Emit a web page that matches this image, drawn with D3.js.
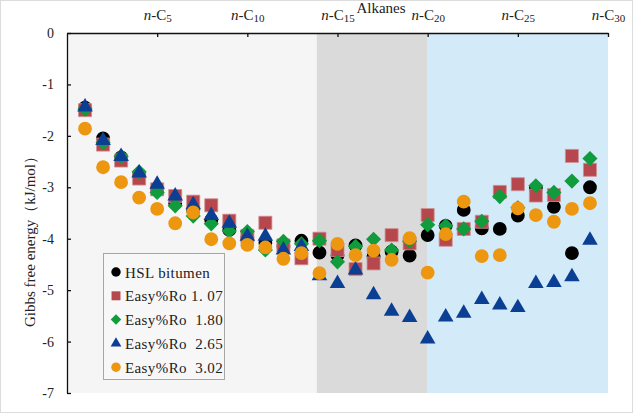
<!DOCTYPE html>
<html>
<head>
<meta charset="utf-8">
<script src="https://cdn.jsdelivr.net/npm/d3@7"></script>
<style>
  body { margin: 0; background: #fff; }
  svg text, svg tspan { font-family: "Liberation Serif", "DejaVu Serif", serif !important; fill: #222; }
</style>
</head>
<body>
<svg id="chart" width="633" height="413" font-family="Liberation Serif, serif"></svg>
<script>
// carbon numbers n-C1 .. n-C29
const carbons = d3.range(1, 30);
const xTicks = [5, 10, 15, 20, 25, 30];
const yTicks = [0, -1, -2, -3, -4, -5, -6, -7];

const hslBitumen = [-1.45, -2.05, -2.42, -2.75, -3.05, -3.31, -3.45, -3.64, -3.83, -3.97,
  -4.08, -4.15, -4.04, -4.27, -4.32, -4.13, -4.35, -4.25, -4.33, -3.93,
  -3.75, -3.44, -3.80, -3.81, -3.55, -3.02, -3.38, -4.28, -3.00];
const ro107 = [-1.50, -2.17, -2.48, -2.83, -3.04, -3.17, -3.28, -3.35, -3.65, -3.95,
  -3.69, -4.13, -4.38, -4.00, -4.22, -4.59, -4.48, -3.93, -4.09, -3.54,
  -4.02, -3.81, -3.67, -3.09, -2.94, -3.16, -3.15, -2.39, -2.66];
const ro180 = [-1.48, -2.13, -2.40, -2.70, -3.10, -3.36, -3.56, -3.71, -3.85, -3.86,
  -4.22, -4.05, -4.10, -4.04, -4.45, -4.15, -4.01, -4.22, -4.05, -3.73,
  -3.75, -3.81, -3.66, -3.18, -3.40, -2.97, -3.10, -2.88, -2.44];
const ro265 = [-1.44, -2.09, -2.40, -2.72, -2.94, -3.17, -3.34, -3.55, -3.70, -3.95,
  -3.95, -4.22, -4.15, -4.72, -4.87, -4.61, -5.09, -5.41, -5.53, -5.95,
  -5.52, -5.45, -5.18, -5.29, -5.34, -4.87, -4.85, -4.74, -4.03];
const ro302 = [-1.86, -2.61, -2.90, -3.20, -3.42, -3.70, -3.49, -4.01, -4.09, -4.12,
  -4.17, -4.39, -4.28, -4.67, -4.10, -4.32, -4.23, -4.41, -3.99, -4.66,
  -3.91, -3.28, -4.34, -4.32, -3.41, -3.54, -3.67, -3.42, -3.31];

const seriesNames = ["HSL bitumen", "Easy%Ro 1. 07", "Easy%Ro  1.80", "Easy%Ro  2.65", "Easy%Ro  3.02"];

// shaded bands (in carbon number units)
const bands = [
  { from: 0, to: 13.85, color: "#f5f5f5" },
  { from: 13.85, to: 20, color: "#dadada" },
  { from: 20, to: 30, color: "#d3eaf9" },
];

const svg = d3.select("#chart");
const margin = { top: 33, right: 25, bottom: 20, left: 67 };
const width = 633, height = 413;
const serif = "Liberation Serif, DejaVu Serif, serif";

const xScale = d3.scaleLinear().domain([0, 30]).range([margin.left, width - margin.right]);
const yScale = d3.scaleLinear().domain([-7, 0]).range([height - margin.bottom, margin.top]);

// faint frame round the picture
svg.append("rect")
  .attr("x", 0.5).attr("y", 0.5)
  .attr("width", width - 1).attr("height", height - 1)
  .attr("fill", "none").attr("stroke", "#dcdcdc");

// background bands
svg.selectAll(".band")
  .data(bands)
  .enter()
  .append("rect")
  .attr("class", "band")
  .attr("x", (d) => xScale(d.from))
  .attr("width", (d) => xScale(d.to) - xScale(d.from))
  .attr("y", yScale(0))
  .attr("height", yScale(-7) - yScale(0))
  .attr("fill", (d) => d.color);

// axes
const xAxis = d3.axisTop(xScale).tickValues(xTicks).tickSize(-4).tickSizeOuter(0).tickPadding(13);
const yAxis = d3.axisLeft(yScale).tickValues(yTicks).tickSize(-4).tickSizeOuter(0).tickPadding(13)
  .tickFormat((d) => String(d));

const gx = svg.append("g")
  .attr("transform", `translate(0,${yScale(0)})`)
  .call(xAxis)
  .attr("font-family", serif);
gx.selectAll("text").text(null).attr("font-size", 15).attr("fill", "#222")
  .each(function (d) {
    const t = d3.select(this);
    t.append("tspan").attr("font-style", "italic").text("n");
    t.append("tspan").text("-C");
    t.append("tspan").attr("font-size", 11).attr("dy", 2).text(d);
  });

const gy = svg.append("g")
  .attr("transform", `translate(${xScale(0)},0)`)
  .call(yAxis)
  .attr("font-family", serif);
gy.selectAll("text").attr("font-size", 14).attr("fill", "#222");

[gx, gy].forEach((g) => {
  g.select(".domain").attr("stroke", "#111").attr("stroke-width", 1.3);
  g.selectAll(".tick line").attr("stroke", "#111").attr("stroke-width", 1.3);
});

// titles
svg.append("text")
  .attr("x", 381).attr("y", 13)
  .attr("text-anchor", "middle")
  .attr("font-family", serif)
  .attr("font-size", 15)
  .text("Alkanes");

svg.append("text")
  .attr("transform", `translate(35,238) rotate(-90)`)
  .attr("text-anchor", "middle")
  .attr("font-family", serif)
  .attr("font-size", 15)
  .text("Gibbs free energy（kJ/mol）");

// markers
const diamond = {
  draw(ctx, size) {
    const r = Math.sqrt(size / 2);
    ctx.moveTo(0, -r); ctx.lineTo(r, 0); ctx.lineTo(0, r); ctx.lineTo(-r, 0); ctx.closePath();
  },
};

const series = [
  { name: seriesNames[0], values: hslBitumen, shape: d3.symbolCircle, size: 150, legendSize: 70, color: "#000000", stroke: "none" },
  { name: seriesNames[1], values: ro107, shape: d3.symbolSquare, size: 170, legendSize: 80, color: "#b5474d", stroke: "#cf8f92" },
  { name: seriesNames[2], values: ro180, shape: diamond, size: 115, legendSize: 55, color: "#109c3c", stroke: "none" },
  { name: seriesNames[3], values: ro265, shape: d3.symbolTriangle, size: 105, legendSize: 50, color: "#0b3f94", stroke: "none" },
  { name: seriesNames[4], values: ro302, shape: d3.symbolCircle, size: 150, legendSize: 70, color: "#ed960f", stroke: "none" },
];

series.forEach((s) => {
  const sym = d3.symbol().type(s.shape).size(s.size);
  svg.append("g")
    .selectAll("path")
    .data(carbons.map((c, i) => ({ c: c, v: s.values[i] })))
    .enter()
    .append("path")
    .attr("d", sym)
    .attr("transform", (d) => `translate(${xScale(d.c)},${yScale(d.v)})`)
    .attr("fill", s.color)
    .attr("stroke", s.stroke)
    .attr("stroke-width", 0.8);
});

// legend
const legend = svg.append("g").attr("transform", "translate(103,253)");
legend.append("rect")
  .attr("x", 0.5).attr("y", 0.5)
  .attr("width", 121).attr("height", 126)
  .attr("fill", "#f7f7f7")
  .attr("stroke", "#a6a6a6");

const items = legend.selectAll(".item")
  .data(series)
  .enter()
  .append("g")
  .attr("class", "item")
  .attr("transform", (d, i) => `translate(0,${19 + i * 23.8})`);

items.append("path")
  .attr("d", (d) => d3.symbol().type(d.shape).size(d.legendSize)())
  .attr("transform", "translate(13,0)")
  .attr("fill", (d) => d.color);

items.append("text")
  .attr("x", 22).attr("y", 5.5)
  .attr("font-family", serif)
  .attr("font-size", 15)
  .attr("letter-spacing", 0.4)
  .style("white-space", "pre")
  .text((d) => d.name);
</script>
</body>
</html>
